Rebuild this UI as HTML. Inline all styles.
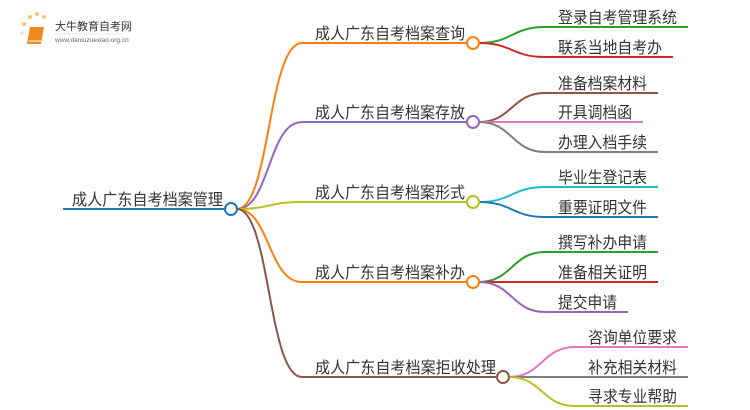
<!DOCTYPE html>
<html><head><meta charset="utf-8"><style>
html,body{margin:0;padding:0;background:#fff;}
svg{display:block;}
text{font-family:"Liberation Sans","Noto Sans CJK SC",sans-serif;fill:#333;font-size:16px;}
</style></head><body>
<svg width="750" height="410" viewBox="0 0 750 410" xmlns="http://www.w3.org/2000/svg">
<g fill="none" stroke-width="2">
<!-- root -->
<path d="M63 209 H225" stroke="#1f77b4"/>
<!-- root to level1 -->
<path d="M237 209 C270 209 268 43 302 43 H467" stroke="#ff7f0e"/>
<path d="M237 209 C270 209 268 122 302 122 H467" stroke="#9467bd"/>
<path d="M237 209 C270 209 268 202 302 202 H467" stroke="#bcbd22"/>
<path d="M237 209 C270 209 268 282 302 282 H467" stroke="#ff7f0e"/>
<path d="M237 209 C270 209 268 377 302 377 H497" stroke="#8c564b"/>
<!-- children -->
<path d="M479 43 C512 43 512 27 545 27 H688" stroke="#2ca02c"/>
<path d="M479 43 C512 43 512 57 545 57 H673" stroke="#d62728"/>
<path d="M479 122 C512 122 512 93 545 93 H658" stroke="#8c564b"/>
<path d="M479 122 H643" stroke="#e377c2"/>
<path d="M479 122 C512 122 512 152 545 152 H658" stroke="#7f7f7f"/>
<path d="M479 202 C512 202 512 187 545 187 H658" stroke="#17becf"/>
<path d="M479 202 C512 202 512 217 545 217 H658" stroke="#1f77b4"/>
<path d="M479 282 C512 282 512 252 545 252 H658" stroke="#2ca02c"/>
<path d="M479 282 H658" stroke="#d62728"/>
<path d="M479 282 C512 282 512 312 545 312 H628" stroke="#9467bd"/>
<path d="M509 377 C542 377 542 347 575 347 H688" stroke="#e377c2"/>
<path d="M509 377 H688" stroke="#7f7f7f"/>
<path d="M509 377 C542 377 542 406 575 406 H688" stroke="#bcbd22"/>
</g>
<g fill="#fff" stroke-width="2">
<circle cx="231" cy="209" r="6" stroke="#1f77b4"/>
<circle cx="473" cy="43" r="6" stroke="#ff7f0e"/>
<circle cx="473" cy="122" r="6" stroke="#9467bd"/>
<circle cx="473" cy="202" r="6" stroke="#bcbd22"/>
<circle cx="473" cy="282" r="6" stroke="#ff7f0e"/>
<circle cx="503" cy="377" r="6" stroke="#8c564b"/>
</g>
<text x="72" y="205" textLength="151" lengthAdjust="spacingAndGlyphs">成人广东自考档案管理</text>
<text x="315" y="39" textLength="150" lengthAdjust="spacingAndGlyphs">成人广东自考档案查询</text>
<text x="315" y="118" textLength="150" lengthAdjust="spacingAndGlyphs">成人广东自考档案存放</text>
<text x="315" y="198" textLength="150" lengthAdjust="spacingAndGlyphs">成人广东自考档案形式</text>
<text x="315" y="278" textLength="150" lengthAdjust="spacingAndGlyphs">成人广东自考档案补办</text>
<text x="315" y="373" textLength="181" lengthAdjust="spacingAndGlyphs">成人广东自考档案拒收处理</text>
<text x="558" y="23" textLength="119" lengthAdjust="spacingAndGlyphs">登录自考管理系统</text>
<text x="558" y="53" textLength="104" lengthAdjust="spacingAndGlyphs">联系当地自考办</text>
<text x="558" y="89" textLength="89" lengthAdjust="spacingAndGlyphs">准备档案材料</text>
<text x="558" y="118" textLength="74" lengthAdjust="spacingAndGlyphs">开具调档函</text>
<text x="558" y="148" textLength="89" lengthAdjust="spacingAndGlyphs">办理入档手续</text>
<text x="558" y="183" textLength="89" lengthAdjust="spacingAndGlyphs">毕业生登记表</text>
<text x="558" y="213" textLength="89" lengthAdjust="spacingAndGlyphs">重要证明文件</text>
<text x="558" y="248" textLength="89" lengthAdjust="spacingAndGlyphs">撰写补办申请</text>
<text x="558" y="278" textLength="89" lengthAdjust="spacingAndGlyphs">准备相关证明</text>
<text x="558" y="308" textLength="59" lengthAdjust="spacingAndGlyphs">提交申请</text>
<text x="588" y="343" textLength="89" lengthAdjust="spacingAndGlyphs">咨询单位要求</text>
<text x="588" y="373" textLength="89" lengthAdjust="spacingAndGlyphs">补充相关材料</text>
<text x="588" y="402" textLength="89" lengthAdjust="spacingAndGlyphs">寻求专业帮助</text>
<!-- logo -->
<g>
<circle cx="24" cy="24" r="2" fill="#f7c46a"/>
<circle cx="30" cy="17" r="2" fill="#f7c46a"/>
<circle cx="37" cy="14" r="2" fill="#f7c46a"/>
<circle cx="44" cy="17" r="2" fill="#f7c46a"/>
<circle cx="22" cy="33" r="1.5" fill="#f7d48a"/>
<path d="M30 27 L44 27 L41 44 L27 44 Z" fill="#f08a1c"/>
<path d="M29 41 L41 41" stroke="#fff" stroke-width="1"/>
<text x="55" y="30" style="font-size:11px" fill="#333">大牛教育自考网</text>
<line x1="55" y1="34" x2="123" y2="34" stroke="#ccc" stroke-width="0.6"/>
<text x="55" y="42" style="font-size:6.5px;fill:#666">www.daniuzuexiao.org.cn</text>
</g>
</svg>
</body></html>
